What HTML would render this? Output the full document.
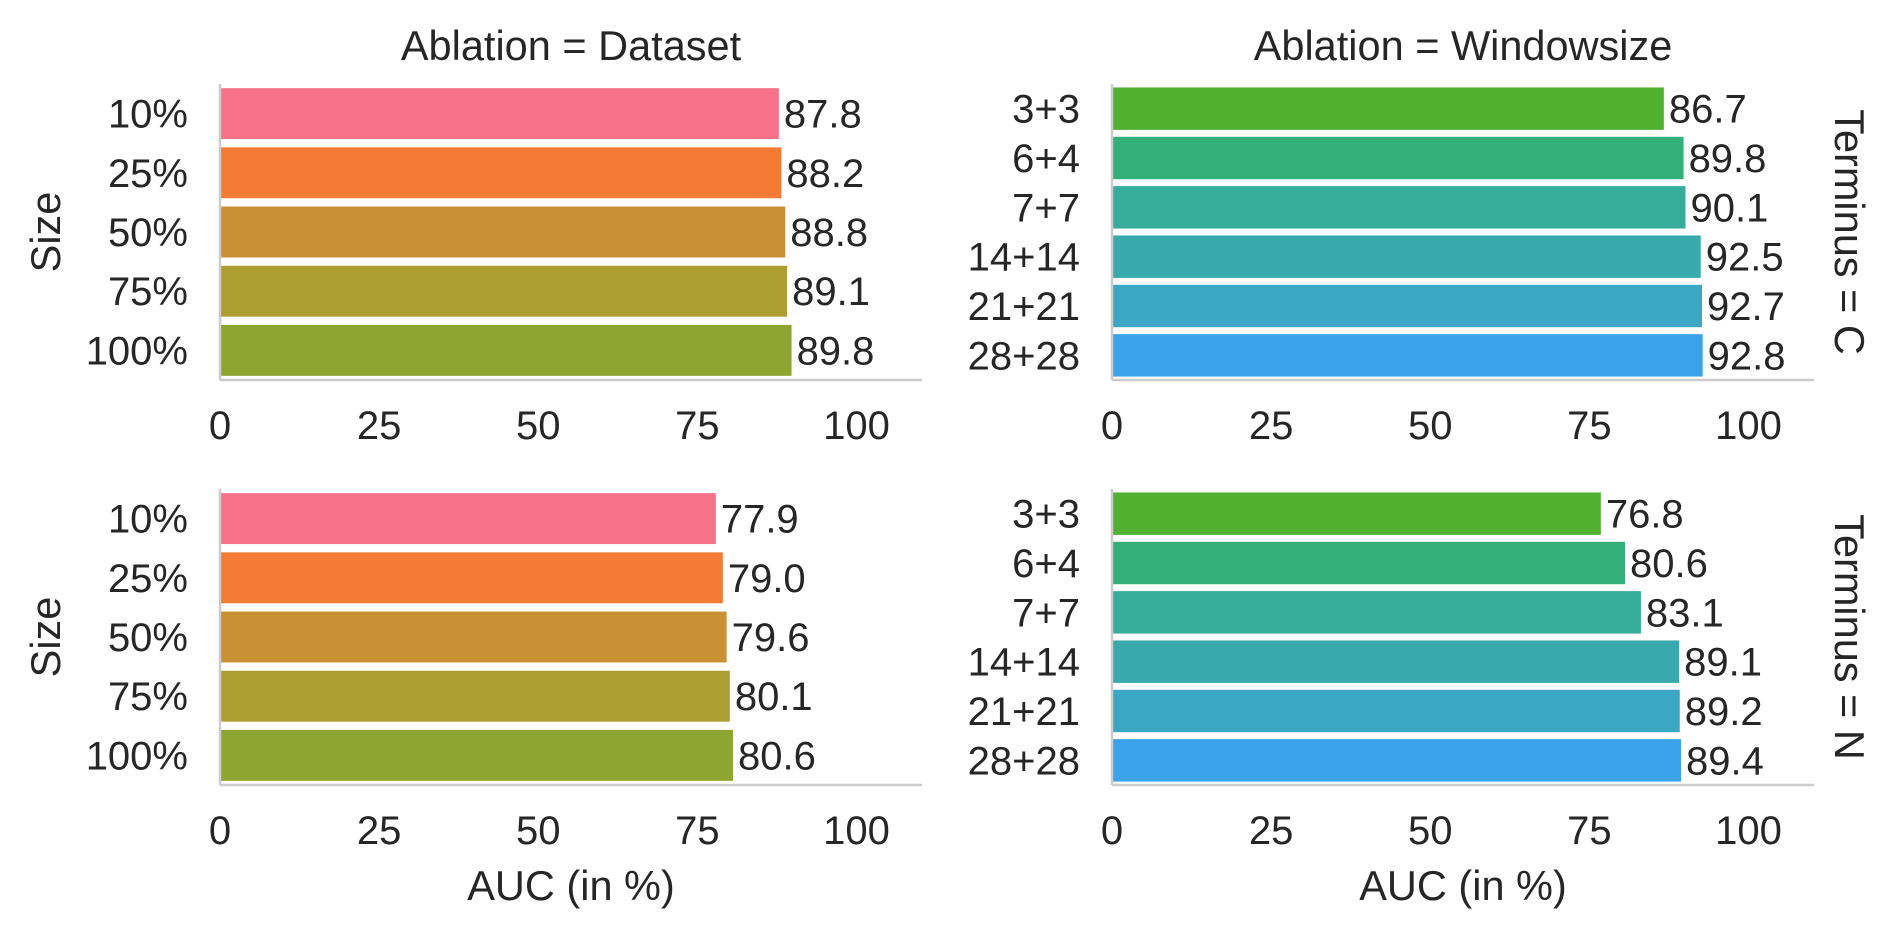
<!DOCTYPE html>
<html><head><meta charset="utf-8">
<style>
html,body{margin:0;padding:0;background:#fff;}
svg text{font-family:"Liberation Sans",Arial,sans-serif;fill:#262626;}
</style></head>
<body>
<svg id="chart" width="1893" height="938" viewBox="0 0 1893 938" xmlns="http://www.w3.org/2000/svg"></svg>
<script>
const sizeCats = ["10%","25%","50%","75%","100%"];
const windowCats = ["3+3","6+4","7+7","14+14","21+21","28+28"];
const datasetC = [87.8,88.2,88.8,89.1,89.8];
const windowC = [86.7,89.8,90.1,92.5,92.7,92.8];
const datasetN = [77.9,79.0,79.6,80.1,80.6];
const windowN = [76.8,80.6,83.1,89.1,89.2,89.4];
const xTicks = [0,25,50,75,100];
const sizeColors = ["#f77189","#f37b34","#c99034","#ae9d31","#8ea532"];
const windowColors = ["#50b131","#33b07a","#36ad9a","#38aaad","#3aa8c5","#3ba3ec"];

const svg = document.getElementById('chart');
const NS = 'http://www.w3.org/2000/svg';
const PX = 6.365, XMAX = 110.3;
function mk(tag, attrs, parent){
  const e = document.createElementNS(NS, tag);
  for (const k in attrs) e.setAttribute(k, attrs[k]);
  (parent||svg).appendChild(e);
  return e;
}
function panel(name, x0, y0, y1, cats, vals, colors, showXLabel, showYLabel, title, rowLabel){
  const g = mk('g', {});
  
  
  const xs = v => x0 + v * PX;
  const band = (y1 - y0) / cats.length;
  const bh = band * 0.86;
  cats.forEach((c, i) => {
    const yc = y0 + band * (i + 0.5);
    const r = mk('rect', {x: x0, y: yc - bh/2, width: xs(vals[i]) - x0, height: bh, fill: colors[i]}, g);
    
    
    const vl = mk('text', {x: xs(vals[i]) + 5, y: yc + 14, 'font-size': 40}, g);
    vl.textContent = vals[i].toFixed(1);
    
    
    const tl = mk('text', {x: x0 - 32, y: yc + 14, 'font-size': 40, 'text-anchor': 'end'}, g);
    tl.textContent = c;
    
    
  });
  const sp1 = mk('line', {x1: x0, y1: y0, x2: x0, y2: y1, stroke: '#cccccc', 'stroke-width': 2.5}, g);
  
  
  const sp2 = mk('line', {x1: x0, y1: y1, x2: xs(XMAX), y2: y1, stroke: '#cccccc', 'stroke-width': 2.5}, g);
  
  
  xTicks.forEach(t => {
    const tt = mk('text', {x: xs(t), y: y1 + 59, 'font-size': 40, 'text-anchor': 'middle'}, g);
    tt.textContent = t;
    
    
  });
  const cx = (x0 + xs(XMAX)) / 2;
  if (title) {
    const ti = mk('text', {x: cx, y: y0 - 24, 'font-size': 41.5, 'text-anchor': 'middle'}, g);
    ti.textContent = title;
    
    
  }
  if (showXLabel) {
    const xl = mk('text', {x: cx, y: y1 + 115, 'font-size': 41.5, 'text-anchor': 'middle'}, g);
    xl.textContent = 'AUC (in %)';
    
    
  }
  if (showYLabel) {
    const ym = (y0 + y1) / 2;
    const yl = mk('text', {x: 0, y: 0, 'font-size': 41.5, 'text-anchor': 'middle', transform: `translate(60,${ym}) rotate(-90)`}, g);
    yl.textContent = 'Size';
    
    
  }
  if (rowLabel) {
    const ym = (y0 + y1) / 2;
    const rl = mk('text', {x: 0, y: 0, 'font-size': 41.5, 'text-anchor': 'middle', transform: `translate(1835,${ym}) rotate(90)`}, g);
    rl.textContent = rowLabel;
    
    
  }
}
panel('panel-dataset-c', 220, 84, 380, sizeCats, datasetC, sizeColors, false, true, 'Ablation = Dataset', null);
panel('panel-windowsize-c', 1112, 84, 380, windowCats, windowC, windowColors, false, false, 'Ablation = Windowsize', 'Terminus = C');
panel('panel-dataset-n', 220, 489, 785, sizeCats, datasetN, sizeColors, true, true, null, null);
panel('panel-windowsize-n', 1112, 489, 785, windowCats, windowN, windowColors, true, false, null, 'Terminus = N');
</script>
</body></html>
